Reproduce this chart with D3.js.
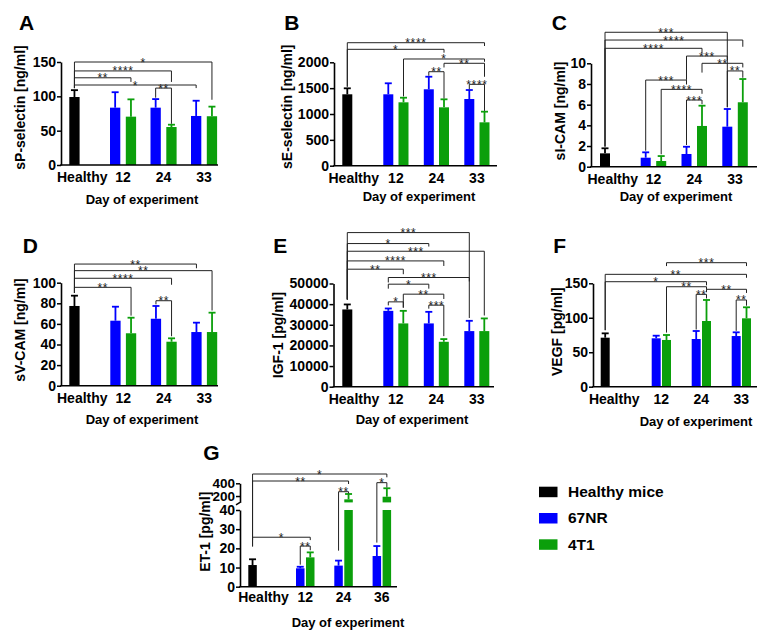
<!DOCTYPE html>
<html><head><meta charset="utf-8">
<script src="https://cdn.jsdelivr.net/npm/d3@7"></script>
<style>
body{margin:0;background:#fff;}
svg{display:block;font-family:"Liberation Sans",Arial,Helvetica,sans-serif;}
</style></head><body>
<svg id="c" width="766" height="631"></svg>
<script>
// ---------------- DATA ----------------
const categories  = ["Healthy","12","24","33"];
const categoriesG = ["Healthy","12","24","36"];
const seriesNames = ["Healthy mice","67NR","4T1"];
const xTitle = "Day of experiment";

// bar index: 0 Healthy, 1 67NR-d1, 2 4T1-d1, 3 67NR-d2, 4 4T1-d2, 5 67NR-d3, 6 4T1-d3
// significance: [fromBar, toBar, level, leftLegEnd, rightLegEnd, label]

// A: sP-selectin
const A_ticks = [0,50,100,150];
const A_healthy = [99],   A_healthySD = [10];
const A_67NR = [83.5, 83.5, 71.4], A_67NR_SD = [22.5, 12.5, 22.2];
const A_4T1  = [70.4, 55.3, 71.0], A_4T1_SD  = [25.2, 3.4, 14];
const A_sig = [[0,6,150,112,95,"*"],[0,4,137,112,121,"****"],[0,2,127,112,121,"**"],[0,5,116.5,112,112,"*"],[3,4,112,98,60,"**"]];

// B: sE-selectin
const B_ticks = [0,500,1000,1500,2000];
const B_healthy = [1381], B_healthySD = [116];
const B_67NR = [1381, 1478, 1290], B_67NR_SD = [213, 243, 174];
const B_4T1  = [1226, 1129, 839],  B_4T1_SD  = [89, 155, 206];
const B_sig = [[0,6,2379,1528,2315,"****"],[0,4,2251,1528,2186,"*"],[2,6,2064,1340,2010,"*"],[4,6,1981,1900,1720,"**"],[3,4,1818,1740,1300,"**"],[5,6,1574,1480,1060,"****"]];

// C: sI-CAM
const C_ticks = [0,2,4,6,8,10];
const C_healthy = [1.29], C_healthySD = [0.49];
const C_67NR = [0.87, 1.23, 3.87], C_67NR_SD = [0.52, 0.70, 1.71];
const C_4T1  = [0.55, 3.94, 6.23], C_4T1_SD  = [0.48, 1.96, 2.25];
const C_sig = [[0,5,13.0,1.95,5.75,"***"],[0,6,12.25,1.95,11.6,"****"],[0,4,11.45,1.95,11.0,"****"],[3,5,10.7,8.4,10.3,"***"],[4,6,10.0,9.1,9.6,"**"],[5,6,9.26,5.75,8.6,"**"],[1,3,8.38,1.55,7.95,"***"],[2,4,7.48,1.2,7.05,"****"],[3,4,6.45,2.1,6.05,"***"]];

// D: sV-CAM
const D_ticks = [0,20,40,60,80,100];
const D_healthy = [77.4], D_healthySD = [10];
const D_67NR = [63.1, 65.0, 52.1], D_67NR_SD = [13.6, 12.4, 9.1];
const D_4T1  = [50.9, 42.7, 52.1], D_4T1_SD  = [15.1, 3.3, 18.8];
const D_sig = [[0,5,118.1,90,114,"**"],[0,6,111.7,90,73,"**"],[0,4,104.3,90,98,"****"],[0,2,95.5,90,68,"**"],[3,4,82.5,79,48,"**"]];

// E: IGF-1
const E_ticks = [0,10000,20000,30000,40000,50000];
const E_healthy = [37430], E_healthySD = [2420];
const E_67NR = [36750, 30660, 26940], E_67NR_SD = [1150, 5610, 4980];
const E_4T1  = [30660, 21760, 26940], E_4T1_SD  = [6090, 1310, 6140];
const E_sig = [[0,5,74670,42260,33300,"***"],[0,3,69350,42260,67900,"*"],[0,6,65630,42260,34500,"***"],[0,4,60940,42260,58500,"****"],[0,2,56930,42260,54500,"**"],[1,5,52900,50500,51000,"***"],[1,3,49670,47500,47500,"*"],[2,4,44830,38300,42500,"**"],[1,2,41100,39400,38300,"*"],[3,4,39510,37800,24500,"***"]];

// F: VEGF
const F_ticks = [0,50,100,150];
const F_healthy = [71.1], F_healthySD = [6.3];
const F_67NR = [70.2, 69.2, 73.5], F_67NR_SD = [3.8, 11.6, 5.4];
const F_4T1  = [67.8, 95.3, 99.2], F_4T1_SD  = [7.2, 30.5, 16];
const F_sig = [[2,6,179.9,175,175,"***"],[0,6,163,82,158,"**"],[0,4,152.3,82,147,"*"],[2,4,145,78.5,141,"**"],[4,6,141.3,137,136,"**"],[3,4,134,83,128,"**"],[5,6,125.8,81,117.5,"**"]];

// G: ET-1 (broken axis)
const G_ticksLow = [0,10,20,30,40];
const G_ticksUp  = [200,400];
const G_domainLow = [0,40], G_domainUp = [100,400];
const G_healthy = [11.3], G_healthySD = [3];
const G_67NR = [9.6, 11.0, 16.0], G_67NR_SD = [0.8, 2.6, 5.2];
const G_4T1  = [15.3, 148, 189],  G_4T1_SD  = [2.6, 84, 133];
const G_sig = [[0,6,546,21,494,"*"],[0,4,436,21,389,"**"],[3,4,268,18.8,240,"**"],[5,6,410,23,335,"*"],[0,2,25.8,24.3,24.3,"*"],[1,2,21.2,11.5,19,"**"]];

// ---------------- LAYOUT ----------------
const colors = ["#000000","#0000ff","#0b9f0b"];
const panels = [
 {letter:"A", cats:categories, yTitle:"sP-selectin [ng/ml]", ticks:A_ticks, h:A_healthy, hSD:A_healthySD, nr:A_67NR, nrSD:A_67NR_SD, t1:A_4T1, t1SD:A_4T1_SD, sig:A_sig,
  L:{axisX:61, axisEnd:218, yBot:165, yTop:62, hX:69.3, gX:110, gStep:40.5, pair:15.8, bw:10.3, hLab:13, tickDy:17, titleX:142, titleY:204, ytX:20, ytY:107.5, lx:19, ly:30}},
 {letter:"B", cats:categories, yTitle:"sE-selectin [ng/ml]", ticks:B_ticks, h:B_healthy, hSD:B_healthySD, nr:B_67NR, nrSD:B_67NR_SD, t1:B_4T1, t1SD:B_4T1_SD, sig:B_sig,
  L:{axisX:334, axisEnd:497, yBot:165.7, yTop:62.3, hX:342.3, gX:383.3, gStep:40.5, pair:15.2, bw:10, hLab:11.5, tickDy:17, titleX:419, titleY:200.5, ytX:286.7, ytY:106.7, lx:284.3, ly:30}},
 {letter:"C", cats:categories, yTitle:"sI-CAM [ng/ml]", ticks:C_ticks, h:C_healthy, hSD:C_healthySD, nr:C_67NR, nrSD:C_67NR_SD, t1:C_4T1, t1SD:C_4T1_SD, sig:C_sig,
  L:{axisX:591, axisEnd:757, yBot:166.7, yTop:63.3, hX:600, gX:640.7, gStep:40.8, pair:15.5, bw:10, hLab:12.8, tickDy:17, titleX:676, titleY:201, ytX:560, ytY:111, lx:551.7, ly:30}},
 {letter:"D", cats:categories, yTitle:"sV-CAM [ng/ml]", ticks:D_ticks, h:D_healthy, hSD:D_healthySD, nr:D_67NR, nrSD:D_67NR_SD, t1:D_4T1, t1SD:D_4T1_SD, sig:D_sig,
  L:{axisX:61, axisEnd:218, yBot:385.7, yTop:282.7, hX:69.3, gX:110.3, gStep:40.5, pair:15.6, bw:10.3, hLab:13, tickDy:17, titleX:142, titleY:424, ytX:20, ytY:330, lx:22.7, ly:253.3}},
 {letter:"E", cats:categories, yTitle:"IGF-1 [pg/ml]", ticks:E_ticks, h:E_healthy, hSD:E_healthySD, nr:E_67NR, nrSD:E_67NR_SD, t1:E_4T1, t1SD:E_4T1_SD, sig:E_sig,
  L:{axisX:333.5, axisEnd:494, yBot:386.7, yTop:283.5, hX:342.3, gX:383.3, gStep:40.5, pair:15, bw:10, hLab:11.7, tickDy:17, titleX:412, titleY:424, ytX:278.3, ytY:335, lx:273.3, ly:253.3}},
 {letter:"F", cats:categories, yTitle:"VEGF [pg/ml]", ticks:F_ticks, h:F_healthy, hSD:F_healthySD, nr:F_67NR, nrSD:F_67NR_SD, t1:F_4T1, t1SD:F_4T1_SD, sig:F_sig,
  L:{axisX:593, axisEnd:757, yBot:386.7, yTop:283.3, hX:600.7, gX:651.7, gStep:40, pair:10.3, bw:9, hLab:13.5, tickDy:17, titleX:696, titleY:426, ytX:556.7, ytY:331.7, lx:553.3, ly:253.3}},
 {letter:"G", cats:categoriesG, yTitle:"ET-1 [pg/ml]", broken:true, ticksLow:G_ticksLow, ticksUp:G_ticksUp, dLow:G_domainLow, dUp:G_domainUp, h:G_healthy, hSD:G_healthySD, nr:G_67NR, nrSD:G_67NR_SD, t1:G_4T1, t1SD:G_4T1_SD, sig:G_sig,
  L:{axisX:240, axisEnd:397, yBot:586.7, yLowTop:510, yUpBot:502.4, yTop:483.3, hX:248.3, gX:296, gStep:38.3, pair:10, bw:8.5, hLab:15.2, tickDy:15, titleX:348, titleY:626.7, ytX:205, ytY:531.7, lx:203.3, ly:460}}
];

const svg = d3.select("#c");
const fmt = d3.format("d");

function styleAxis(g, fs){
  g.select(".domain").attr("stroke","#000").attr("stroke-width",1.6);
  g.selectAll(".tick line").attr("stroke","#000").attr("stroke-width",1.5);
  g.selectAll(".tick text").attr("fill","#000").attr("font-size",fs||14).attr("font-weight","bold")
    .attr("font-family",'"Liberation Sans",Arial,sans-serif');
}

function drawPanel(p){
  const L = p.L;
  const g = svg.append("g");
  let yPos, yLow, yUp;
  if (p.broken){
    yLow = d3.scaleLinear().domain(p.dLow).range([L.yBot, L.yLowTop]);
    yUp  = d3.scaleLinear().domain(p.dUp).range([L.yUpBot, L.yTop]);
    yPos = v => v > p.dLow[1] ? yUp(v) : yLow(v);
  } else {
    const y = d3.scaleLinear().domain([0, d3.max(p.ticks)]).range([L.yBot, L.yTop]);
    yPos = y; yLow = y;
  }
  const days = p.cats.slice(1);
  const xDay = d3.scaleBand().domain(days).range([L.gX, L.gX + days.length*L.gStep]);
  const xSer = d3.scaleBand().domain(seriesNames.slice(1)).range([0, L.pair + L.bw]).paddingInner((L.pair - L.bw)/L.pair);

  const bars = [{x:L.hX, v:p.h[0], sd:p.hSD[0], c:colors[0]}];
  days.forEach((d,i)=>{
    bars.push({x:xDay(d)+xSer(seriesNames[1]), v:p.nr[i], sd:p.nrSD[i], c:colors[1]});
    bars.push({x:xDay(d)+xSer(seriesNames[2]), v:p.t1[i], sd:p.t1SD[i], c:colors[2]});
  });
  const bw = xSer.bandwidth();

  // bars
  bars.forEach(b=>{
    if (p.broken && b.v > p.dLow[1]){
      g.append("rect").attr("x",b.x).attr("y",yLow(p.dLow[1])).attr("width",bw)
        .attr("height",yLow(0)-yLow(p.dLow[1])).attr("fill",b.c);
      g.append("rect").attr("x",b.x).attr("y",yUp(b.v)).attr("width",bw)
        .attr("height",yUp(p.dUp[0])-yUp(b.v)).attr("fill",b.c);
    } else {
      g.append("rect").attr("x",b.x).attr("y",yPos(b.v)).attr("width",bw)
        .attr("height",yPos(0)-yPos(b.v)).attr("fill",b.c);
    }
    const cx = b.x + bw/2, top = yPos(b.v + b.sd);
    g.append("line").attr("x1",cx).attr("x2",cx).attr("y1",yPos(b.v)).attr("y2",top)
      .attr("stroke",b.c).attr("stroke-width",1.8);
    g.append("line").attr("x1",cx-3.5).attr("x2",cx+3.5).attr("y1",top).attr("y2",top)
      .attr("stroke",b.c).attr("stroke-width",1.8);
  });

  // axes
  if (p.broken){
    const aL = g.append("g").attr("transform",`translate(${L.axisX},0)`)
      .call(d3.axisLeft(yLow).tickValues(p.ticksLow).tickFormat(fmt).tickSize(4).tickPadding(1).tickSizeOuter(0));
    styleAxis(aL);
    const aU = g.append("g").attr("transform",`translate(${L.axisX},0)`)
      .call(d3.axisLeft(yUp).tickValues(p.ticksUp).tickFormat(fmt).tickSize(4).tickPadding(1).tickSizeOuter(0));
    styleAxis(aU, 13.5);
    const yb = yUp(p.dUp[0]);
    g.append("path").attr("d",`M${L.axisX-4},${yb+2.5} L${L.axisX},${yb}`)
      .attr("stroke","#000").attr("stroke-width",1.5).attr("fill","none");
  } else {
    const aY = g.append("g").attr("transform",`translate(${L.axisX},0)`)
      .call(d3.axisLeft(yPos).tickValues(p.ticks).tickFormat(fmt).tickSize(4).tickPadding(1).tickSizeOuter(0));
    styleAxis(aY);
  }
  g.append("line").attr("x1",L.axisX-0.8).attr("x2",L.axisEnd).attr("y1",L.yBot).attr("y2",L.yBot)
    .attr("stroke","#000").attr("stroke-width",1.6);

  // x tick labels
  const labX = [L.hX + L.hLab].concat(days.map(d=>xDay(d) + (L.pair+L.bw)/2));
  p.cats.forEach((c,i)=>{
    g.append("text").attr("x",labX[i]).attr("y",L.yBot+L.tickDy).attr("text-anchor","middle")
      .attr("font-size",14).attr("font-weight","bold").text(c);
  });
  // titles
  g.append("text").attr("x",L.titleX).attr("y",L.titleY).attr("text-anchor","middle")
    .attr("font-size",13).attr("font-weight","bold").text(xTitle);
  g.append("text").attr("transform",`translate(${L.ytX},${L.ytY}) rotate(-90)`).attr("dy","0.36em")
    .attr("text-anchor","middle").attr("font-size",14).attr("font-weight","bold").text(p.yTitle);
  g.append("text").attr("x",L.lx).attr("y",L.ly).attr("font-size",21).attr("font-weight","bold").text(p.letter);

  // significance brackets
  p.sig.forEach(s=>{
    const x1 = bars[s[0]].x + bw/2, x2 = bars[s[1]].x + bw/2, yl = yPos(s[2]);
    g.append("path").attr("d",`M${x1},${yPos(s[3])} V${yl} H${x2} V${yPos(s[4])}`)
      .attr("fill","none").attr("stroke","#222").attr("stroke-width",1);
    g.append("text").attr("x",(x1+x2)/2).attr("y",yl+4.5).attr("text-anchor","middle")
      .attr("font-size",12).attr("letter-spacing",0.6).attr("fill","#222").text(s[5]);
  });
}

panels.forEach(drawPanel);

// legend
const lg = svg.append("g").attr("transform","translate(539,486.7)");
seriesNames.forEach((n,i)=>{
  lg.append("rect").attr("x",0).attr("y",i*26.3).attr("width",18.5).attr("height",10.5).attr("fill",colors[i]);
  lg.append("text").attr("x",29).attr("y",i*26.3+10.5).attr("font-size",15.5).attr("font-weight","bold").text(n);
});
</script>
</body></html>
